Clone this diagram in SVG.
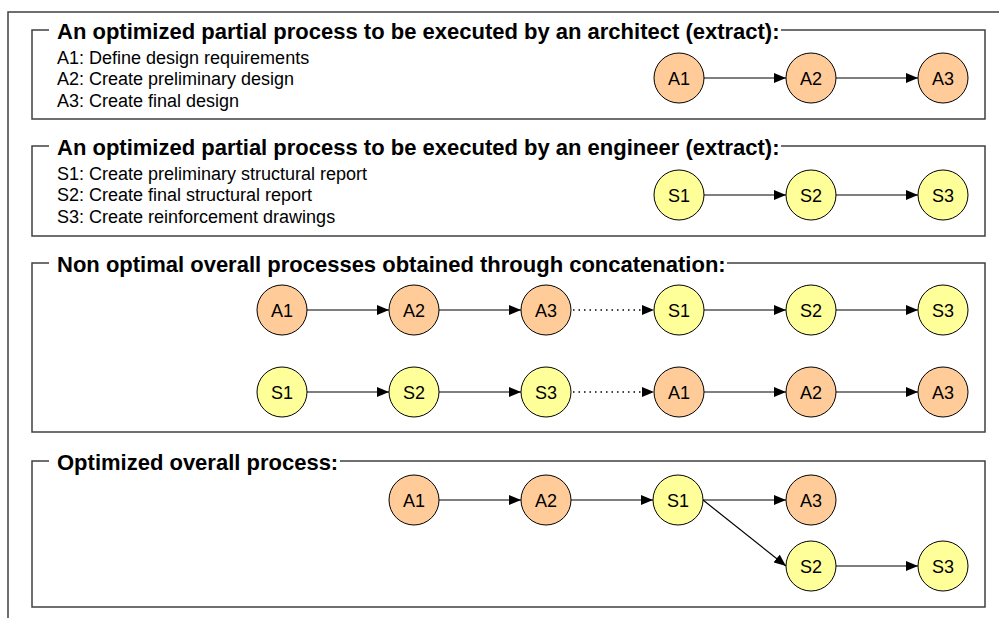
<svg xmlns="http://www.w3.org/2000/svg" width="999" height="618" viewBox="0 0 999 618">
<style>
.frame{fill:none;stroke:#404040;stroke-width:1.5}
.title{font-family:"Liberation Sans",Arial,sans-serif;font-weight:bold;font-size:22px;fill:#000}
.item{font-family:"Liberation Sans",Arial,sans-serif;font-size:18px;fill:#000}
.lbl{font-family:"Liberation Sans",Arial,sans-serif;font-size:18px;fill:#000;text-anchor:middle}
.a{fill:#FFCC99;stroke:#000;stroke-width:1}
.s{fill:#FFFF99;stroke:#000;stroke-width:1}
.edge{fill:none;stroke:#000;stroke-width:1.2;marker-end:url(#arr)}
.dot{fill:none;stroke:#000;stroke-width:1.5;stroke-dasharray:1.5 4;marker-end:url(#arr)}
</style>
<defs>
<marker id="arr" markerUnits="userSpaceOnUse" markerWidth="12" markerHeight="10" refX="12" refY="5" orient="auto">
<path d="M0,0 L12,5 L0,10 z" fill="#000"/>
</marker>
</defs>
<rect width="999" height="618" fill="#fff"/>
<path class="frame" d="M8,618 V12 H999"/>

<g id="box1">
<path class="frame" d="M49,30 H32 V119 H985 V30 H781"/>
<text class="title" x="57" y="39">An optimized partial process to be executed by an architect (extract):</text>
<text class="item" x="57" y="64">A1: Define design requirements</text>
<text class="item" x="57" y="85">A2: Create preliminary design</text>
<text class="item" x="57" y="107">A3: Create final design</text>
</g>
<g id="box2">
<path class="frame" d="M49,146 H32 V236 H985 V146 H781"/>
<text class="title" x="57" y="155">An optimized partial process to be executed by an engineer (extract):</text>
<text class="item" x="57" y="180">S1: Create preliminary structural report</text>
<text class="item" x="57" y="201">S2: Create final structural report</text>
<text class="item" x="57" y="223">S3: Create reinforcement drawings</text>
</g>
<g id="box3">
<path class="frame" d="M49,263 H32 V432 H985 V263 H727"/>
<text class="title" x="57" y="272">Non optimal overall processes obtained through concatenation:</text>
</g>
<g id="box4">
<path class="frame" d="M49,461 H32 V607 H985 V461 H340"/>
<text class="title" x="57" y="470">Optimized overall process:</text>
</g>

<g id="connectors">
<path class="edge" d="M704,78 H786"/>
<path class="edge" d="M836,78 H918"/>
<path class="edge" d="M704,195 H786"/>
<path class="edge" d="M836,195 H918"/>
<path class="edge" d="M307,310 H389"/>
<path class="edge" d="M439,310 H521"/>
<path class="dot" d="M573,310 H654"/>
<path class="edge" d="M704,310 H786"/>
<path class="edge" d="M836,310 H918"/>
<path class="edge" d="M307,392 H389"/>
<path class="edge" d="M439,392 H521"/>
<path class="dot" d="M573,392 H654"/>
<path class="edge" d="M704,392 H786"/>
<path class="edge" d="M836,392 H918"/>
<path class="edge" d="M439,500 H521"/>
<path class="edge" d="M571,500 H653"/>
<path class="edge" d="M703,500 H786"/>
<path class="edge" d="M703,500 L786,566"/>
<path class="edge" d="M836,566 H918"/>
</g>

<g id="n1-A1"><circle class="a" cx="679" cy="78" r="25"/><text class="lbl" x="679" y="84.5">A1</text></g>
<g id="n1-A2"><circle class="a" cx="811" cy="78" r="25"/><text class="lbl" x="811" y="84.5">A2</text></g>
<g id="n1-A3"><circle class="a" cx="943" cy="78" r="25"/><text class="lbl" x="943" y="84.5">A3</text></g>

<g id="n2-S1"><circle class="s" cx="679" cy="195" r="25"/><text class="lbl" x="679" y="201.5">S1</text></g>
<g id="n2-S2"><circle class="s" cx="811" cy="195" r="25"/><text class="lbl" x="811" y="201.5">S2</text></g>
<g id="n2-S3"><circle class="s" cx="943" cy="195" r="25"/><text class="lbl" x="943" y="201.5">S3</text></g>

<g id="n3a-A1"><circle class="a" cx="282" cy="310" r="25"/><text class="lbl" x="282" y="316.5">A1</text></g>
<g id="n3a-A2"><circle class="a" cx="414" cy="310" r="25"/><text class="lbl" x="414" y="316.5">A2</text></g>
<g id="n3a-A3"><circle class="a" cx="546" cy="310" r="25"/><text class="lbl" x="546" y="316.5">A3</text></g>
<g id="n3a-S1"><circle class="s" cx="679" cy="310" r="25"/><text class="lbl" x="679" y="316.5">S1</text></g>
<g id="n3a-S2"><circle class="s" cx="811" cy="310" r="25"/><text class="lbl" x="811" y="316.5">S2</text></g>
<g id="n3a-S3"><circle class="s" cx="943" cy="310" r="25"/><text class="lbl" x="943" y="316.5">S3</text></g>

<g id="n3b-S1"><circle class="s" cx="282" cy="392" r="25"/><text class="lbl" x="282" y="398.5">S1</text></g>
<g id="n3b-S2"><circle class="s" cx="414" cy="392" r="25"/><text class="lbl" x="414" y="398.5">S2</text></g>
<g id="n3b-S3"><circle class="s" cx="546" cy="392" r="25"/><text class="lbl" x="546" y="398.5">S3</text></g>
<g id="n3b-A1"><circle class="a" cx="679" cy="392" r="25"/><text class="lbl" x="679" y="398.5">A1</text></g>
<g id="n3b-A2"><circle class="a" cx="811" cy="392" r="25"/><text class="lbl" x="811" y="398.5">A2</text></g>
<g id="n3b-A3"><circle class="a" cx="943" cy="392" r="25"/><text class="lbl" x="943" y="398.5">A3</text></g>

<g id="n4-A1"><circle class="a" cx="414" cy="500" r="25"/><text class="lbl" x="414" y="506.5">A1</text></g>
<g id="n4-A2"><circle class="a" cx="546" cy="500" r="25"/><text class="lbl" x="546" y="506.5">A2</text></g>
<g id="n4-S1"><circle class="s" cx="678" cy="500" r="25"/><text class="lbl" x="678" y="506.5">S1</text></g>
<g id="n4-A3"><circle class="a" cx="811" cy="500" r="25"/><text class="lbl" x="811" y="506.5">A3</text></g>
<g id="n4-S2"><circle class="s" cx="811" cy="566" r="25"/><text class="lbl" x="811" y="572.5">S2</text></g>
<g id="n4-S3"><circle class="s" cx="943" cy="566" r="25"/><text class="lbl" x="943" y="572.5">S3</text></g>
</svg>
